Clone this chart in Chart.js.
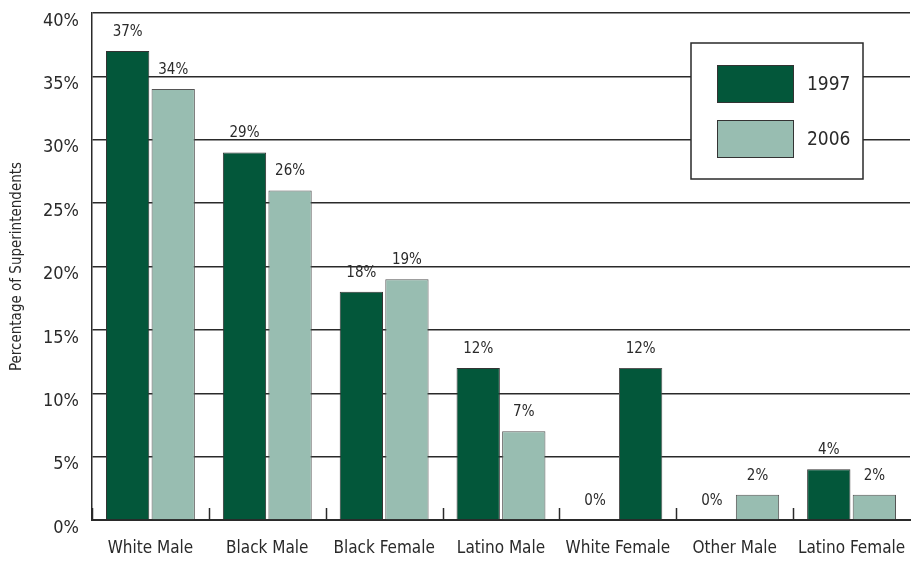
<!DOCTYPE html>
<html>
<head>
<meta charset="utf-8">
<script src="https://cdn.jsdelivr.net/npm/chart.js@4"></script>
<style>
  html, body { margin: 0; padding: 0; background: #fff; }
  #wrap { width: 911px; height: 565px; }
</style>
</head>
<body>
<div id="wrap"><canvas id="chart"></canvas></div>
<script>
const categories = ['White Male', 'Black Male', 'Black Female', 'Latino Male', 'White Female', 'Other Male', 'Latino Female'];
const values1997 = [37, 29, 18, 12, 0, 0, 4];
const values2006 = [34, 26, 19, 7, 12, 2, 2];
const yTicks = [0, 5, 10, 15, 20, 25, 30, 35, 40];

const FONT = '"Liberation Sans Narrow", "DejaVu Sans Condensed", "Roboto Condensed", sans-serif';
const DARK = '#03573a';
const LIGHT = '#98bdb1';
const INK = '#2a2a2a';

// the White Female bar in the second series is printed in the darker green
const colors2006 = values2006.map((v, i) => i === 4 ? DARK : LIGHT);

// value labels above every bar
const barLabels = {
    id: 'barLabels',
    afterDatasetsDraw(chart) {
        const ctx = chart.ctx;
        ctx.save();
        ctx.font = '15px ' + FONT;
        ctx.fillStyle = INK;
        ctx.textAlign = 'center';
        ctx.textBaseline = 'middle';
        chart.data.datasets.forEach((ds, di) => {
            chart.getDatasetMeta(di).data.forEach((bar, i) => {
                ctx.fillText(ds.data[i] + '%', bar.x, bar.y - 19);
            });
        });
        ctx.restore();
    }
};

// short category separators standing up from the baseline
const categoryTicks = {
    id: 'categoryTicks',
    afterDraw(chart) {
        const x = chart.scales.x;
        const ctx = chart.ctx;
        const base = chart.chartArea.bottom;
        const step = x.getPixelForValue(1) - x.getPixelForValue(0);
        ctx.save();
        ctx.strokeStyle = INK;
        ctx.lineWidth = 1.5;
        for (let i = 0; i < categories.length; i++) {
            const px = Math.round(x.getPixelForValue(i) - step / 2) + 0.5;
            ctx.beginPath();
            ctx.moveTo(px, base);
            ctx.lineTo(px, base - 12);
            ctx.stroke();
        }
        ctx.restore();
    }
};

// boxed legend in the upper right
const boxLegend = {
    id: 'boxLegend',
    afterDraw(chart) {
        const ctx = chart.ctx;
        ctx.save();
        ctx.fillStyle = '#fff';
        ctx.fillRect(691, 43, 172, 136);
        ctx.strokeStyle = INK;
        ctx.lineWidth = 1.5;
        ctx.strokeRect(691, 43, 172, 136);
        const rows = [[DARK, '1997', 65], [LIGHT, '2006', 120]];
        ctx.font = '19px ' + FONT;
        ctx.textBaseline = 'middle';
        ctx.textAlign = 'left';
        rows.forEach(([c, t, y]) => {
            ctx.fillStyle = c;
            ctx.fillRect(717, y, 76, 37);
            ctx.lineWidth = 1;
            ctx.strokeStyle = '#333';
            ctx.strokeRect(717.5, y + 0.5, 76, 37);
            ctx.fillStyle = INK;
            ctx.fillText(t, 807, y + 20);
        });
        ctx.restore();
    }
};

new Chart(document.getElementById('chart'), {
    type: 'bar',
    data: {
        labels: categories,
        datasets: [
            {
                label: '1997',
                data: values1997,
                backgroundColor: DARK,
                borderColor: '#333',
                borderWidth: 1
            },
            {
                label: '2006',
                data: values2006,
                backgroundColor: colors2006,
                borderColor: '#555',
                borderWidth: 1
            }
        ]
    },
    options: {
        responsive: true,
        maintainAspectRatio: false,
        animation: false,
        layout: { padding: { top: 13, right: 1, left: 0, bottom: 0 } },
        categoryPercentage: 0.78,
        barPercentage: 0.95,
        plugins: {
            legend: { display: false },
            tooltip: { enabled: false }
        },
        scales: {
            x: {
                grid: { display: false, drawTicks: false },
                border: { color: INK, width: 2 },
                ticks: {
                    color: INK,
                    font: { family: FONT, size: 17 },
                    padding: 18
                },
                afterFit(s) {
                    s.height = 45;
                    s.paddingLeft = 0;
                    s.paddingRight = 0;
                }
            },
            y: {
                min: 0,
                max: 40,
                afterBuildTicks(s) { s.ticks = yTicks.map(v => ({ value: v })); },
                grid: { color: INK, lineWidth: 1.5, drawTicks: false },
                border: { color: INK, width: 1.5 },
                ticks: {
                    color: INK,
                    font: { family: FONT, size: 18 },
                    padding: 13,
                    labelOffset: 8,
                    callback: v => v + '%'
                },
                title: {
                    display: true,
                    text: 'Percentage of Superintendents',
                    color: INK,
                    font: { family: FONT, size: 15 },
                    padding: { top: 8, bottom: 0 }
                },
                afterFit(s) {
                    s.width = 92;
                    s.paddingTop = 0;
                    s.paddingBottom = 0;
                }
            }
        }
    },
    plugins: [barLabels, categoryTicks, boxLegend]
});
</script>
</body>
</html>
